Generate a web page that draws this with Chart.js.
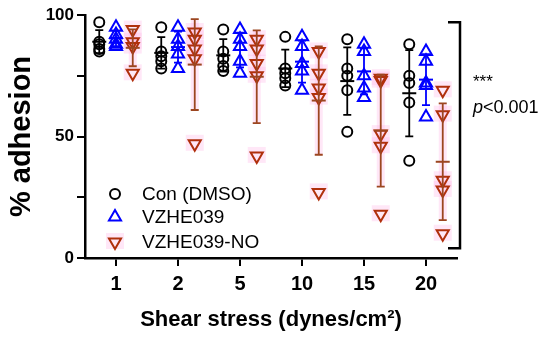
<!DOCTYPE html>
<html><head><meta charset="utf-8">
<script src="https://cdn.jsdelivr.net/npm/chart.js@4.4.1/dist/chart.umd.min.js"></script>
<style>html,body{margin:0;padding:0;background:#fff}#wrap{width:550px;height:341px;position:relative}</style>
</head><body><div id="wrap"><canvas id="c"></canvas></div>
<script>
// ---- data ----
const categories = ['1','2','5','10','15','20'];
const conDMSO   = [[97,89,88,86,85],[95,85,83,81,78],[94,85,82,79,77],[91,78,76,74,71],[90,78,75,69,52],[88,75,72,64,40]];
const vzhe039   = [[95,92,90,88,87],[95,90,87,84,78],[94,90,87,81,76],[91,87,80,77,69],[88,85,75,70,66],[85,81,72,71,58]];
const vzhe039NO = [[94,89,87,76],[93,90,86,82,47],[90,86,80,75,42],[85,76,70,66,27],[74,73,51,46,18],[69,59,32,28,10]];
const seriesNames = ['Con (DMSO)','VZHE039','VZHE039-NO'];
const yTicks = [0,25,50,75,100];
const yTickLabels = {0:'0',50:'50',100:'100'};
const xTitle = 'Shear stress (dynes/cm²)';
const yTitle = '% adhesion';
const sigStars = '***';
const sigP = '<0.001';

// ---- styles ----
const groupsAll = [conDMSO, vzhe039, vzhe039NO];
const offsets = [-0.27, 0, 0.27];
const strokeCols = ['#000000', '#0000ff', '#b0300c'];
const barCols = ['#000000', '#0000ff', '#9c4620'];
const FONT = '"Liberation Sans", Arial, sans-serif';

function toPoints(groups, off) {
  const pts = [];
  groups.forEach((g, i) => g.forEach(v => pts.push({x: i + off, y: v})));
  return pts;
}
function stats(arr) {
  const m = arr.reduce((a, b) => a + b, 0) / arr.length;
  const sd = Math.sqrt(arr.reduce((a, b) => a + (b - m) * (b - m), 0) / (arr.length - 1));
  return {m, sd};
}

const pinkPlugin = {
  id: 'pink',
  beforeDatasetsDraw(chart) {
    const ctx = chart.ctx, xs = chart.scales.x, ys = chart.scales.y;
    ctx.save();
    ctx.fillStyle = 'rgba(255,175,230,0.3)';
    vzhe039NO.forEach((g, i) => {
      const px = xs.getPixelForValue(i + offsets[2]);
      const s = stats(g);
      const t = ys.getPixelForValue(Math.min(100, s.m + s.sd)), b = ys.getPixelForValue(s.m - s.sd);
      ctx.fillRect(px - 4, t, 8, b - t);
      g.forEach(v => {
        const py = ys.getPixelForValue(v);
        ctx.fillRect(px - 9, py - 9, 18, 16);
      });
    });
    ctx.restore();
  }
};

const errPlugin = {
  id: 'err',
  afterDatasetsDraw(chart) {
    const ctx = chart.ctx, xs = chart.scales.x, ys = chart.scales.y;
    ctx.save();
    groupsAll.forEach((groups, k) => {
      ctx.strokeStyle = barCols[k];
      groups.forEach((g, i) => {
        const s = stats(g);
        const px = xs.getPixelForValue(i + offsets[k]);
        const pm = ys.getPixelForValue(s.m);
        const pt = ys.getPixelForValue(Math.min(100, s.m + s.sd));
        const pb = ys.getPixelForValue(s.m - s.sd);
        ctx.lineWidth = 1.8;
        ctx.beginPath();
        ctx.moveTo(px, pt); ctx.lineTo(px, pb);
        ctx.moveTo(px - 4, pt); ctx.lineTo(px + 4, pt);
        ctx.moveTo(px - 4, pb); ctx.lineTo(px + 4, pb);
        ctx.stroke();
        ctx.lineWidth = 2;
        ctx.beginPath();
        ctx.moveTo(px - 7, pm); ctx.lineTo(px + 7, pm);
        ctx.stroke();
      });
    });
    ctx.restore();
  }
};

const annotPlugin = {
  id: 'annot',
  afterDraw(chart) {
    const ctx = chart.ctx, ys = chart.scales.y, ca = chart.chartArea;
    ctx.save();
    // legend
    const rows = [ca.bottom - 64, ca.bottom - 41, ca.bottom - 16];
    chart.data.datasets.forEach((ds, k) => {
      const mx = ca.left + 30, my = rows[k];
      if (k === 2) {
        ctx.fillStyle = 'rgba(255,175,230,0.3)';
        ctx.fillRect(mx - 9, my - 9, 18, 16);
      }
      ctx.strokeStyle = ds.borderColor;
      ctx.fillStyle = 'rgba(0,0,0,0)';
      ctx.lineWidth = ds.borderWidth;
      Chart.helpers.drawPoint(ctx, {pointStyle: ds.pointStyle, rotation: ds.rotation || 0, radius: ds.pointRadius, borderWidth: ds.borderWidth}, mx, my);
      ctx.fillStyle = '#000';
      ctx.font = '19px ' + FONT;
      ctx.textBaseline = 'middle';
      ctx.textAlign = 'left';
      ctx.fillText(seriesNames[k], ca.left + 57, my + 1);
    });
    // bracket
    const bx = ca.right + 3;
    const bt = ys.getPixelForValue(97), bb = ys.getPixelForValue(4);
    ctx.strokeStyle = '#000';
    ctx.lineWidth = 2.5;
    ctx.beginPath();
    ctx.moveTo(bx - 12, bt); ctx.lineTo(bx, bt); ctx.lineTo(bx, bb); ctx.lineTo(bx - 12, bb);
    ctx.stroke();
    ctx.fillStyle = '#000';
    ctx.textBaseline = 'alphabetic';
    ctx.font = '17px ' + FONT;
    ctx.fillText(sigStars, bx + 13, 87);
    ctx.font = 'italic 18px ' + FONT;
    ctx.fillText('p', bx + 13, 113);
    const pw = ctx.measureText('p').width;
    ctx.font = '18px ' + FONT;
    ctx.fillText(sigP, bx + 13 + pw, 113);
    ctx.restore();
  }
};

const datasets = groupsAll.map((groups, k) => ({
  label: seriesNames[k],
  data: toPoints(groups, offsets[k]),
  pointStyle: k === 0 ? 'circle' : 'triangle',
  rotation: k === 2 ? 180 : 0,
  pointRotation: k === 2 ? 180 : 0,
  pointRadius: k === 0 ? 5 : 7,
  borderWidth: 2,
  borderColor: strokeCols[k],
  backgroundColor: 'rgba(0,0,0,0)',
  showLine: false
}));

new Chart(document.getElementById('c'), {
  type: 'scatter',
  data: {datasets},
  plugins: [pinkPlugin, errPlugin, annotPlugin],
  options: {
    responsive: true,
    maintainAspectRatio: false,
    animation: false,
    layout: {padding: {left: 0, right: 93, top: 15, bottom: 0}},
    plugins: {legend: {display: false}, tooltip: {enabled: false}},
    scales: {
      x: {
        type: 'linear', min: -0.5, max: 5.5,
        afterBuildTicks: s => { s.ticks = categories.map((c, i) => ({value: i})); },
        afterFit: s => { s.height = 83; },
        ticks: {callback: (v, i) => categories[i], color: '#000', font: {family: FONT, size: 20, weight: 'bold'}, padding: 6, maxRotation: 0, autoSkip: false},
        grid: {drawOnChartArea: false, drawTicks: true, tickLength: 8, color: '#000', lineWidth: 2},
        border: {display: true, color: '#000', width: 2.5},
        title: {display: true, text: xTitle, color: '#000', font: {family: FONT, size: 22, weight: 'bold'}, padding: {top: 4, bottom: 8}}
      },
      y: {
        min: 0, max: 100,
        afterBuildTicks: s => { s.ticks = yTicks.map(v => ({value: v})); },
        afterFit: s => { s.width = 85; },
        ticks: {callback: v => (yTickLabels[v] !== undefined ? yTickLabels[v] : ''), color: '#000', font: {family: FONT, size: 17, weight: 'bold'}, padding: 3, autoSkip: false},
        grid: {drawOnChartArea: false, drawTicks: true, tickLength: 8, color: '#000', lineWidth: 2},
        border: {display: true, color: '#000', width: 2.5},
        title: {display: true, text: yTitle, color: '#000', font: {family: FONT, size: 29, weight: 'bold'}, padding: {top: 5, bottom: 2}}
      }
    }
  }
});
</script>
</body></html>
